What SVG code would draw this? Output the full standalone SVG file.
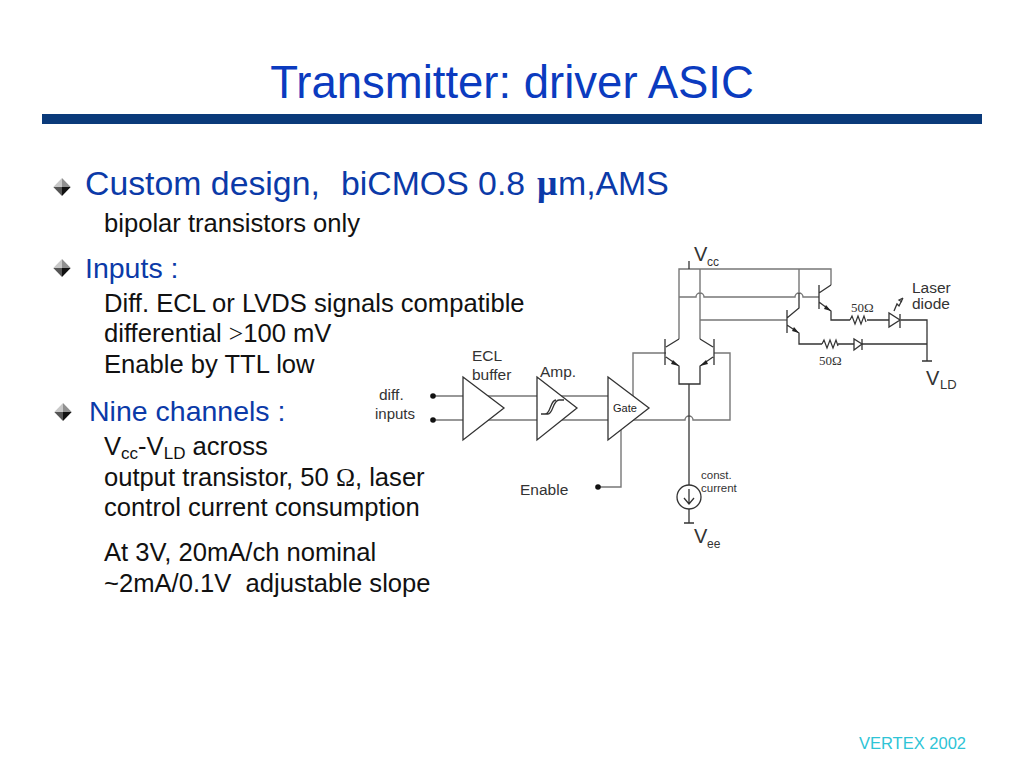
<svg xmlns="http://www.w3.org/2000/svg" width="1024" height="768" viewBox="0 0 1024 768">
<style>
text{font-family:"Liberation Sans",Arial,sans-serif;white-space:pre}
.b{fill:#0b3bbf}
.h{fill:#0b3aa8}
.k{fill:#111}
.t{font-size:25.6px;fill:#111}
.d{font-size:15.500px;fill:#333}
.v{font-size:20px;fill:#333}
.s{font-family:"Liberation Serif",serif;font-size:13px;fill:#333}
.w{fill:none;stroke:#777;stroke-width:1.4}
.e{fill:none;stroke:#333;stroke-width:1.3}
.f{fill:#fff;stroke:#333;stroke-width:1.3}
.a{fill:#222}
</style>
<defs>
<g id="bullet">
<polygon points="0,-9 -8.700,0 0,0" fill="#c8c8c8"/><polygon points="0,-9 8.700,0 0,0" fill="#909090"/>
<polygon points="-8.700,0 0,9 0,0" fill="#555"/><polygon points="8.700,0 0,9 0,0" fill="#111"/>
</g>
<path id="res" d="M0,0l2,-4 3,8 3,-8 3,8 3,-8 2,6" fill="none" stroke="#333" stroke-width="1.2"/>
</defs>
<rect width="1024" height="768" fill="#fff"/>
<g id="title"><text x="512" y="98" text-anchor="middle" font-size="45.500" class="b">Transmitter: driver ASIC</text>
<rect x="42" y="114" width="940" height="10" fill="#0a3a7a"/></g>
<g id="bullets">
<use href="#bullet" x="62" y="187"/><use href="#bullet" x="62" y="268"/><use href="#bullet" x="63" y="412"/>
<text x="85" y="195" font-size="33.800" class="h">Custom design,<tspan x="341">biCMOS 0.8</tspan><tspan x="537" font-family="Liberation Serif" font-weight="bold" font-size="36">μ</tspan><tspan x="558">m,AMS</tspan></text>
<text x="104" y="232" class="t">bipolar transistors only</text>
<text x="85" y="278" class="h" font-size="28.500">Inputs :</text>
<text x="104" y="312" class="t">Diff. ECL or LVDS signals compatible</text>
<text x="104" y="342" class="t">differential <tspan font-family="Liberation Serif">&gt;</tspan>100 mV</text>
<text x="104" y="373" class="t">Enable by TTL low</text>
<text x="89" y="421" font-size="28.500" class="h">Nine channels :</text>
<text x="104" y="455" class="t">V<tspan font-size="17" dy="4">cc</tspan><tspan dy="-4">-V</tspan><tspan font-size="17" dy="4">LD</tspan><tspan dy="-4"> across</tspan></text>
<text x="104" y="486" class="t">output transistor, 50 <tspan font-family="Liberation Serif">Ω</tspan>, laser</text>
<text x="104" y="516" class="t">control current consumption</text>
<text x="104" y="561" class="t">At 3V, 20mA/ch nominal</text>
<text x="104" y="592" class="t">~2mA/0.1V  adjustable slope</text>
</g>
<g id="connectors">
<path class="w" d="M433,396H609M433,420H609"/>
<path class="w" d="M598,487H621V425"/>
<path class="w" d="M633,396V353H666M625,420H685a4,4 0 0 1 8,0H730V353H714"/>
<path class="w" d="M679,339V269H831V285M700,269V339M679,297H696a4,4 0 0 1 8,0H795a4,4 0 0 1 8,0H819"/>
<path class="w" d="M700,320H787M799,269V293"/>
<path class="e" d="M689,384V485"/>
<path class="e" d="M665,339V365M714,339V365M666,347L679,339M713,347L700,339M666,357L679,366V384H700V366L713,357"/>
<path class="e" d="M787,310V333M819,285V309M787,318L799,308V293M787,325L799,333V344H822M819,293L831,285M819,302L831,311V320H850M867,320H889M901,320H927V361M838,344H854M862,344H927M922,361H932"/>
<path class="e" d="M689,509V523M684,523H694"/>
<path class="e" d="M689,261V269"/>
</g>
<g id="ecl-buffer"><polygon class="f" points="463,377 504,408 463,440"/></g>
<g id="amp"><polygon class="f" points="537,377 577,408 537,440"/>
<path class="e" stroke-width="0.900" d="M541,414H548C553,414 553,400 559,400H564M545,414C551,414 550,400 556,400"/></g>
<g id="gate"><polygon class="f" points="608,377 649,408 608,440"/>
<text x="613" y="412" font-size="11" fill="#222">Gate</text></g>
<g id="q-left"><polygon class="a" points="679,366 671,364 673,360"/></g>
<g id="q-right"><polygon class="a" points="700,366 708,364 706,360"/></g>
<g id="q-upper"><polygon class="a" points="799,333 792,331 794,327"/></g>
<g id="q-output"><polygon class="a" points="831,311 824,309 826,305"/></g>
<g id="res-top"><use href="#res" x="850" y="320"/></g>
<g id="res-bottom"><use href="#res" x="822" y="344"/></g>
<g id="laser-diode"><polygon class="f" points="889,313 889,327 900,320"/><path class="e" d="M900,314V328M894,311L897,304 899,306 903,298M903,298l-4,2 3,2"/></g>
<g id="diode"><polygon class="f" points="854,339 854,350 862,344"/><path class="e" d="M862,339V350"/></g>
<g id="current-source"><circle class="f" cx="689" cy="497" r="12"/><path class="e" d="M689,489V504M684,498L689,504 694,498"/></g>
<g id="input-dots"><circle class="k" cx="433" cy="396" r="2.800"/><circle class="k" cx="433" cy="420" r="2.800"/><circle class="k" cx="598" cy="487" r="2.800"/></g>
<g id="labels">
<text class="d" x="379" y="400">diff.</text><text class="d" x="375" y="419" style="font-size:15px">inputs</text>
<text class="d" x="472" y="361">ECL</text><text class="d" x="472" y="380">buffer</text>
<text class="d" x="540" y="377">Amp.</text>
<text class="d" x="520" y="495">Enable</text>
<text class="v" x="694" y="261">V</text><text x="707" y="266" font-size="12" fill="#333">cc</text>
<text class="d" x="912" y="293">Laser</text><text class="d" x="912" y="309">diode</text>
<text class="v" x="926" y="385">V</text><text x="940" y="389" font-size="13" fill="#333">LD</text>
<text class="s" x="851" y="312">50Ω</text><text class="s" x="819" y="365">50Ω</text>
<text x="701" y="479" font-size="11.500" fill="#333">const.</text><text x="701" y="492" font-size="11.500" fill="#333">current</text>
<text class="v" x="694" y="543">V</text><text x="707" y="548" font-size="12" fill="#333">ee</text>
</g>
<g id="footer"><text x="966" y="749" text-anchor="end" font-size="16.500" fill="#2ec4d6">VERTEX 2002</text></g>
</svg>
